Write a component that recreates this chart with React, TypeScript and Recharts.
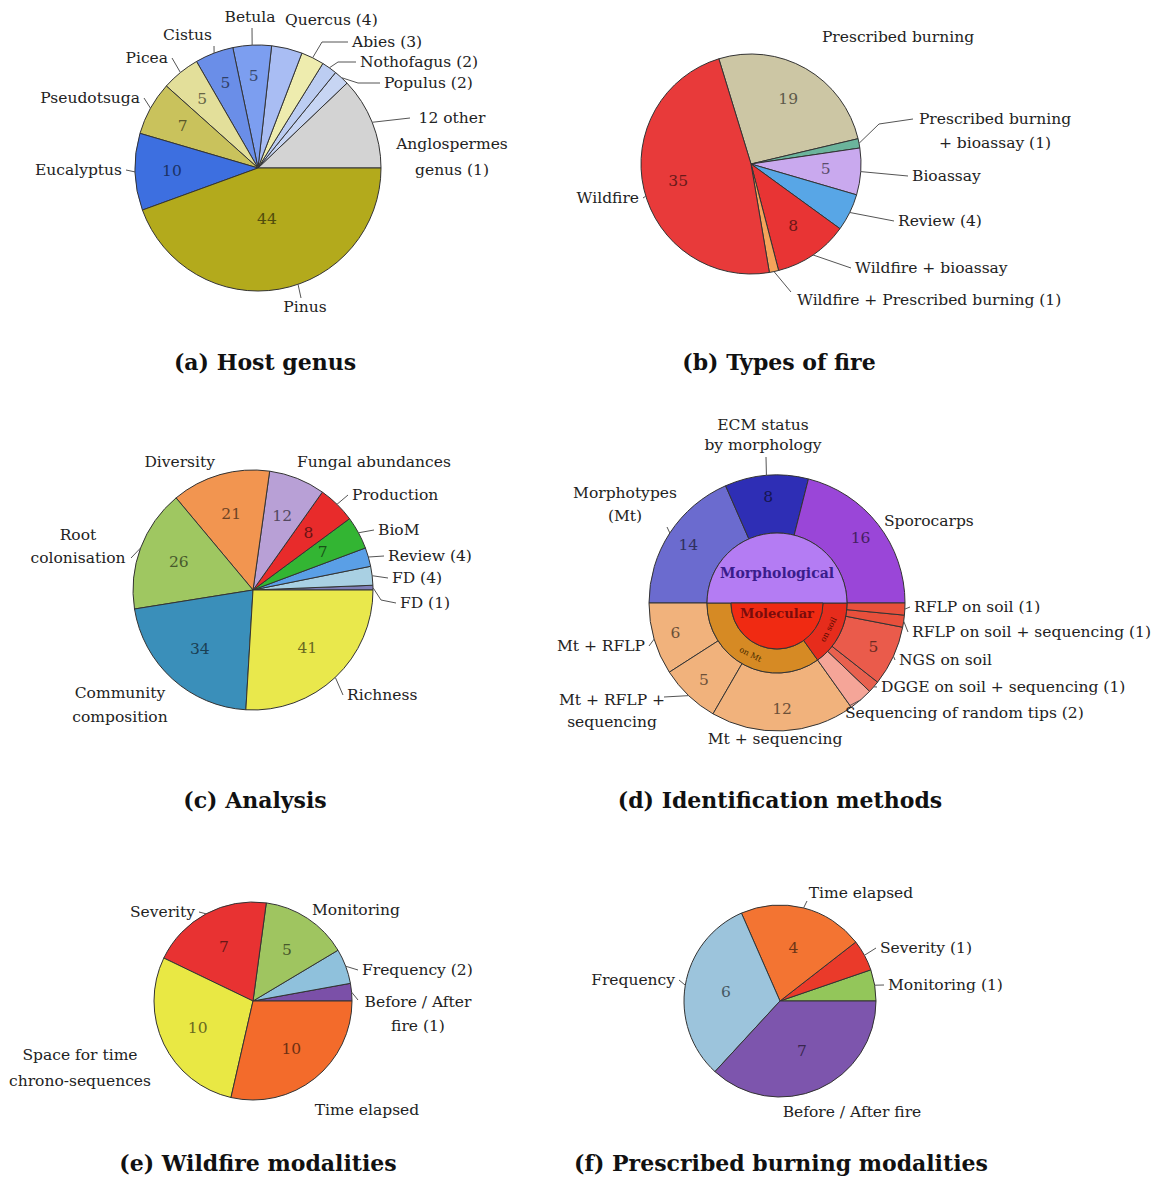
import React from 'react';
import { PieChart, Pie, Cell } from 'recharts';

const FONT = '"DejaVu Serif", "Liberation Serif", serif';

// ---------- (a) Host genus
const hostGenus = ['12 other Anglospermes genus', 'Populus', 'Nothofagus', 'Abies', 'Quercus', 'Betula', 'Cistus', 'Picea', 'Pseudotsuga', 'Eucalyptus', 'Pinus'];
const hostCounts = [12, 2, 2, 3, 4, 5, 5, 5, 7, 10, 44];
const hostLabels = ['12 other\nAnglospermes\ngenus (1)', 'Populus (2)', 'Nothofagus (2)', 'Abies (3)', 'Quercus (4)', 'Betula', 'Cistus', 'Picea', 'Pseudotsuga', 'Eucalyptus', 'Pinus'];
const hostShow = [false, false, false, false, false, true, true, true, true, true, true];
const hostColors = ['#d3d3d3', '#c7d5f3', '#bccdf2', '#eeecae', '#a9bdf3', '#7c9ef0', '#6a8ee8', '#e3df9a', '#c9c25c', '#3d6fe0', '#b3aa1c'];

// ---------- (b) Types of fire
const fireTypes = ['Prescribed burning', 'Prescribed burning + bioassay', 'Bioassay', 'Review', 'Wildfire + bioassay', 'Wildfire + Prescribed burning', 'Wildfire'];
const fireCounts = [19, 1, 5, 4, 8, 1, 35];
const fireLabels = ['Prescribed burning', 'Prescribed burning\n+ bioassay (1)', 'Bioassay', 'Review (4)', 'Wildfire + bioassay', 'Wildfire + Prescribed burning (1)', 'Wildfire'];
const fireShow = [true, false, true, false, true, false, true];
const fireColors = ['#ccc6a4', '#6bb49c', '#c9a9ee', '#58a6e6', '#e83434', '#f5a35a', '#e83a3a'];

// ---------- (c) Analysis
const analysisTypes = ['FD (1)', 'FD (4)', 'Review', 'BioM', 'Production', 'Fungal abundances', 'Diversity', 'Root colonisation', 'Community composition', 'Richness'];
const analysisCounts = [1, 4, 4, 7, 8, 12, 21, 26, 34, 41];
const analysisLabels = ['FD (1)', 'FD (4)', 'Review (4)', 'BioM', 'Production', 'Fungal abundances', 'Diversity', 'Root\ncolonisation', 'Community\ncomposition', 'Richness'];
const analysisShow = [false, false, false, true, true, true, true, true, true, true];
const analysisColors = ['#7f7fb8', '#a9d0e3', '#5a9fe6', '#33b533', '#e82b2b', '#b8a0d6', '#f29550', '#9fc761', '#3a8fba', '#e9e84c'];

// ---------- (d) Identification methods
const morphMethods = ['Morphotypes (Mt)', 'ECM status by morphology', 'Sporocarps'];
const morphCounts = [14, 8, 16];
const morphLabels = ['Morphotypes\n(Mt)', 'ECM status\nby morphology', 'Sporocarps'];
const morphShow = [true, true, true];
const morphColors = ['#6b6bcf', '#2e2eb5', '#9a46d8'];

const molMethods = ['Mt + RFLP', 'Mt + RFLP + sequencing', 'Mt + sequencing', 'Sequencing of random tips', 'DGGE on soil + sequencing', 'NGS on soil', 'RFLP on soil + sequencing', 'RFLP on soil'];
const molCounts = [6, 5, 12, 2, 1, 5, 1, 1];
const molLabels = ['Mt + RFLP', 'Mt + RFLP +\nsequencing', 'Mt + sequencing', 'Sequencing of random tips (2)', 'DGGE on soil + sequencing (1)', 'NGS on soil', 'RFLP on soil + sequencing (1)', 'RFLP on soil (1)'];
const molShow = [true, true, true, false, false, true, false, false];
const molColors = ['#f1b27c', '#f1b27c', '#f1b27c', '#f5a598', '#e8604e', '#ea5b4b', '#e8503c', '#e8503c'];

const molGroups = ['on Mt', 'on soil'];
const molGroupCounts = [
  molCounts[0] + molCounts[1] + molCounts[2],
  molCounts[3] + molCounts[4] + molCounts[5] + molCounts[6] + molCounts[7],
];
const molGroupColors = ['#d68a24', '#e62c1c'];
const coreMorph = ['Morphological'];
const coreMol = ['Molecular'];

// ---------- (e) Wildfire modalities
const wildMods = ['Before / After fire', 'Frequency', 'Monitoring', 'Severity', 'Space for time chrono-sequences', 'Time elapsed'];
const wildCounts = [1, 2, 5, 7, 10, 10];
const wildLabels = ['Before / After\nfire (1)', 'Frequency (2)', 'Monitoring', 'Severity', 'Space for time\nchrono-sequences', 'Time elapsed'];
const wildShow = [false, false, true, true, true, true];
const wildColors = ['#7b50a8', '#8fc1dc', '#9fc560', '#e83232', '#e9e844', '#f36b2b'];

// ---------- (f) Prescribed burning modalities
const pbMods = ['Monitoring', 'Severity', 'Time elapsed', 'Frequency', 'Before / After fire'];
const pbCounts = [1, 1, 4, 6, 7];
const pbLabels = ['Monitoring (1)', 'Severity (1)', 'Time elapsed', 'Frequency', 'Before / After fire'];
const pbShow = [false, false, true, true, true];
const pbColors = ['#93c65a', '#ea3a2a', '#f37432', '#9cc4dc', '#7d55ad'];

const titles = ['(a) Host genus', '(b) Types of fire', '(c) Analysis', '(d) Identification methods', '(e) Wildfire modalities', '(f) Prescribed burning modalities'];

// ---------- helpers
type Lay = {
  dx: number; dy: number; anchor: 'start' | 'middle' | 'end';
  line?: boolean; to?: [number, number]; via?: [number, number]; from?: number; lh?: number;
  fw?: string; fill?: string; fs?: number; tangent?: boolean;
};

const RAD = Math.PI / 180;
const polar = (cx: number, cy: number, r: number, a: number): [number, number] => [
  cx + r * Math.cos(-a * RAD),
  cy + r * Math.sin(-a * RAD),
];
const darken = (hex: string, k = 0.45) => {
  const n = parseInt(hex.slice(1), 16);
  const r = Math.round(((n >> 16) & 255) * k);
  const g = Math.round(((n >> 8) & 255) * k);
  const b = Math.round((n & 255) * k);
  return `rgb(${r},${g},${b})`;
};

const LABEL_FS = 15.5;

function makeLabel(labels: string[], show: boolean[], layout: (Lay | null)[], numR: number | number[], colors: string[]) {
  return (p: any) => {
    const { cx, cy, midAngle, innerRadius, outerRadius, index, value } = p;
    const parts: React.ReactNode[] = [];
    if (show[index]) {
      const f = Array.isArray(numR) ? numR[index] : numR;
      const r = innerRadius + (outerRadius - innerRadius) * f;
      const [x, y] = polar(cx, cy, r, midAngle);
      parts.push(
        <text key="n" x={x} y={y} textAnchor="middle" dominantBaseline="central" fill={darken(colors[index])} fontSize={15.5} fontFamily={FONT}>
          {value}
        </text>
      );
    }
    const lay = layout[index];
    if (lay) {
      if (lay.tangent) {
        const [x, y] = polar(cx, cy, (innerRadius + outerRadius) / 2, midAngle);
        parts.push(
          <text key="t" x={x} y={y} textAnchor="middle" dominantBaseline="central" fill={lay.fill || '#333'} fontSize={lay.fs || 8} fontFamily={FONT} transform={`rotate(${270 - midAngle} ${x} ${y})`}>
            {labels[index]}
          </text>
        );
      } else {
        const fs = lay.fs || LABEL_FS;
        const tx = cx + lay.dx;
        const ty = cy + lay.dy;
        const lines = labels[index].split('\n');
        if (lay.line !== false) {
          const a = polar(cx, cy, outerRadius, lay.from ?? midAngle);
          let end: [number, number];
          if (lay.to) end = [cx + lay.to[0], cy + lay.to[1]];
          else if (lay.anchor === 'start') end = [tx - 4, ty];
          else if (lay.anchor === 'end') end = [tx + 4, ty];
          else end = [tx, ty + (ty < cy ? 10 : -10)];
          const pts: [number, number][] = [a];
          if (lay.via) pts.push([cx + lay.via[0], cy + lay.via[1]]);
          pts.push(end);
          parts.push(<polyline key="l" points={pts.map((q) => q.join(',')).join(' ')} fill="none" stroke="#555" strokeWidth={1} />);
        }
        const lh = lay.lh ?? 24;
        parts.push(
          <text key="t" x={tx} y={ty} textAnchor={lay.anchor} fill={lay.fill || '#222'} fontSize={fs} fontWeight={lay.fw || 'normal'} fontFamily={FONT}>
            {lines.map((ln, i) => (
              <tspan key={i} x={tx} dy={i === 0 ? fs * 0.35 : lh}>
                {ln}
              </tspan>
            ))}
          </text>
        );
      }
    }
    return <g>{parts}</g>;
  };
}

const toData = (names: string[], values: number[]) => names.map((name, i) => ({ name, value: values[i] }));

// label layouts (offsets relative to each pie centre)
const hostLayout: Lay[] = [
  { dx: 194, dy: -50, anchor: 'middle', to: [152, -50], lh: 26 },
  { dx: 126, dy: -85, anchor: 'start', via: [100, -85] },
  { dx: 102, dy: -106, anchor: 'start', via: [80, -106] },
  { dx: 94, dy: -126, anchor: 'start', via: [64, -126] },
  { dx: 27, dy: -148, anchor: 'start', line: false },
  { dx: -8, dy: -151, anchor: 'middle', to: [-6, -140] },
  { dx: -46, dy: -133, anchor: 'end', to: [-44, -122] },
  { dx: -90, dy: -110, anchor: 'end' },
  { dx: -118, dy: -70, anchor: 'end' },
  { dx: -136, dy: 2, anchor: 'end' },
  { dx: 47, dy: 139, anchor: 'middle', from: 289, to: [43, 130] },
];
const hostNumR = [0.7, 0.7, 0.7, 0.7, 0.7, 0.75, 0.74, 0.72, 0.7, 0.7, 0.42];

const fireLayout: Lay[] = [
  { dx: 147, dy: -127, anchor: 'middle', line: false },
  { dx: 244, dy: -45, anchor: 'middle', via: [128, -40], to: [162, -45] },
  { dx: 161, dy: 12, anchor: 'start' },
  { dx: 147, dy: 57, anchor: 'start' },
  { dx: 104, dy: 104, anchor: 'start' },
  { dx: 46, dy: 136, anchor: 'start', to: [40, 128] },
  { dx: -112, dy: 34, anchor: 'end', from: 197 },
];

const analysisLayout: Lay[] = [
  { dx: 147, dy: 13, anchor: 'start', via: [128, 10] },
  { dx: 139, dy: -12, anchor: 'start' },
  { dx: 135, dy: -34, anchor: 'start' },
  { dx: 125, dy: -60, anchor: 'start' },
  { dx: 99, dy: -95, anchor: 'start' },
  { dx: 44, dy: -128, anchor: 'start', line: false },
  { dx: -38, dy: -128, anchor: 'end', line: false },
  { dx: -175, dy: -55, anchor: 'middle', to: [-122, -32], lh: 23 },
  { dx: -133, dy: 103, anchor: 'middle', line: false, lh: 24 },
  { dx: 94, dy: 105, anchor: 'start' },
];

const morphLayout: Lay[] = [
  { dx: -152, dy: -110, anchor: 'middle', to: [-110, -76], lh: 23 },
  { dx: -14, dy: -178, anchor: 'middle', to: [-11, -146], lh: 20 },
  { dx: 107, dy: -82, anchor: 'start', line: false },
];
const molLayout: Lay[] = [
  { dx: -132, dy: 43, anchor: 'end' },
  { dx: -165, dy: 97, anchor: 'middle', to: [-113, 94], lh: 22 },
  { dx: -2, dy: 136, anchor: 'middle', line: false },
  { dx: 68, dy: 110, anchor: 'start', to: [72, 103] },
  { dx: 104, dy: 84, anchor: 'start' },
  { dx: 122, dy: 57, anchor: 'start' },
  { dx: 135, dy: 29, anchor: 'start' },
  { dx: 137, dy: 4, anchor: 'start' },
];
const groupLayout: Lay[] = [
  { dx: 0, dy: 0, anchor: 'middle', tangent: true, fs: 8, fill: '#4a2a00' },
  { dx: 0, dy: 0, anchor: 'middle', tangent: true, fs: 8, fill: '#5a0a00' },
];
const coreMorphLayout: Lay[] = [{ dx: 0, dy: -30, anchor: 'middle', line: false, fw: 'bold', fs: 14, fill: '#3a1c8c' }];
const coreMolLayout: Lay[] = [{ dx: 0, dy: 10, anchor: 'middle', line: false, fw: 'bold', fs: 13, fill: '#7a0c0c' }];

const wildLayout: Lay[] = [
  { dx: 165, dy: 1, anchor: 'middle', to: [105, -1], lh: 24 },
  { dx: 109, dy: -31, anchor: 'start' },
  { dx: 59, dy: -91, anchor: 'start', line: false },
  { dx: -58, dy: -89, anchor: 'end' },
  { dx: -173, dy: 54, anchor: 'middle', line: false, lh: 26 },
  { dx: 114, dy: 109, anchor: 'middle', line: false },
];

const pbLayout: Lay[] = [
  { dx: 108, dy: -16, anchor: 'start' },
  { dx: 100, dy: -53, anchor: 'start' },
  { dx: 81, dy: -108, anchor: 'middle', to: [27, -100] },
  { dx: -105, dy: -21, anchor: 'end' },
  { dx: 72, dy: 111, anchor: 'middle', line: false },
];

const titlePos: [number, number][] = [
  [265, 362], [779, 362], [255, 800], [780, 800], [258, 1163], [781, 1163],
];

const STROKE = '#333';

function cells(colors: string[]) {
  return colors.map((c, i) => <Cell key={i} fill={c} stroke={STROKE} strokeWidth={1} />);
}

export default function App() {
  return (
    <div style={{ position: 'absolute', left: 0, top: 0, width: 1169, height: 1182, background: '#fff' }}>
      <PieChart width={1169} height={1182} margin={{ top: 0, right: 0, bottom: 0, left: 0 }}>
        {/* (a) */}
        <Pie data={toData(hostGenus, hostCounts)} dataKey="value" cx={258} cy={168} outerRadius={123} startAngle={0} endAngle={360}
          isAnimationActive={false} labelLine={false} label={makeLabel(hostLabels, hostShow, hostLayout, hostNumR, hostColors)}>
          {cells(hostColors)}
        </Pie>
        {/* (b) */}
        <Pie data={toData(fireTypes, fireCounts)} dataKey="value" cx={751} cy={164} outerRadius={110} startAngle={107} endAngle={-253}
          isAnimationActive={false} labelLine={false} label={makeLabel(fireLabels, fireShow, fireLayout, 0.68, fireColors)}>
          {cells(fireColors)}
        </Pie>
        {/* (c) */}
        <Pie data={toData(analysisTypes, analysisCounts)} dataKey="value" cx={253} cy={590} outerRadius={120} startAngle={0} endAngle={360}
          isAnimationActive={false} labelLine={false} label={makeLabel(analysisLabels, analysisShow, analysisLayout, 0.66, analysisColors)}>
          {cells(analysisColors)}
        </Pie>
        {/* (d) outer rings */}
        <Pie data={toData(morphMethods, morphCounts)} dataKey="value" cx={777} cy={603} innerRadius={70} outerRadius={128} startAngle={180} endAngle={0}
          isAnimationActive={false} labelLine={false} label={makeLabel(morphLabels, morphShow, morphLayout, 0.62, morphColors)}>
          {cells(morphColors)}
        </Pie>
        <Pie data={toData(molMethods, molCounts)} dataKey="value" cx={777} cy={603} innerRadius={70} outerRadius={128} startAngle={180} endAngle={360}
          isAnimationActive={false} labelLine={false} label={makeLabel(molLabels, molShow, molLayout, 0.62, molColors)}>
          {cells(molColors)}
        </Pie>
        <Pie data={toData(molGroups, molGroupCounts)} dataKey="value" cx={777} cy={603} innerRadius={46} outerRadius={70} startAngle={180} endAngle={360}
          isAnimationActive={false} labelLine={false} label={makeLabel(molGroups, [false, false], groupLayout, 0.5, molGroupColors)}>
          {cells(molGroupColors)}
        </Pie>
        <Pie data={toData(coreMorph, [1])} dataKey="value" cx={777} cy={603} innerRadius={0} outerRadius={70} startAngle={180} endAngle={0}
          isAnimationActive={false} labelLine={false} label={makeLabel(coreMorph, [false], coreMorphLayout, 0.5, ['#b47cf3'])}>
          {cells(['#b47cf3'])}
        </Pie>
        <Pie data={toData(coreMol, [1])} dataKey="value" cx={777} cy={603} innerRadius={0} outerRadius={46} startAngle={180} endAngle={360}
          isAnimationActive={false} labelLine={false} label={makeLabel(coreMol, [false], coreMolLayout, 0.5, ['#f02a12'])}>
          {cells(['#f02a12'])}
        </Pie>
        {/* (e) */}
        <Pie data={toData(wildMods, wildCounts)} dataKey="value" cx={253} cy={1001} outerRadius={99} startAngle={0} endAngle={360}
          isAnimationActive={false} labelLine={false} label={makeLabel(wildLabels, wildShow, wildLayout, 0.62, wildColors)}>
          {cells(wildColors)}
        </Pie>
        {/* (f) */}
        <Pie data={toData(pbMods, pbCounts)} dataKey="value" cx={780} cy={1001} outerRadius={96} startAngle={0} endAngle={360}
          isAnimationActive={false} labelLine={false} label={makeLabel(pbLabels, pbShow, pbLayout, 0.57, pbColors)}>
          {cells(pbColors)}
        </Pie>
      </PieChart>
      {titles.map((t, i) => (
        <div key={t} style={{
          position: 'absolute', left: titlePos[i][0] - 300, top: titlePos[i][1] - 13, width: 600, textAlign: 'center',
          fontFamily: FONT, fontWeight: 'bold', fontSize: 22, lineHeight: '26px', color: '#111',
        }}>{t}</div>
      ))}
    </div>
  );
}
